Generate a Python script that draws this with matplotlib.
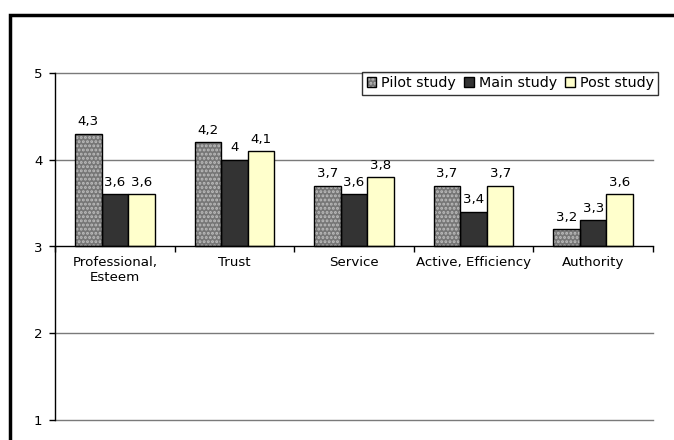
import matplotlib
matplotlib.use("Agg")
import matplotlib.pyplot as plt
from matplotlib.patches import Rectangle
import numpy as np

plt.rcParams['font.family'] = ['DejaVu Sans']
plt.rcParams['hatch.linewidth'] = 1.4

categories = ["Professional,\nEsteem", "Trust", "Service", "Active, Efficiency", "Authority"]
series_names = ["Pilot study", "Main study", "Post study"]
pilot = [4.3, 4.2, 3.7, 3.7, 3.2]
main = [3.6, 4.0, 3.6, 3.4, 3.3]
post = [3.6, 4.1, 3.8, 3.7, 3.6]
y_ticks = [1, 2, 3, 4, 5]
baseline = 3

W, H = 674, 440
fig = plt.figure(figsize=(W / 100, H / 100), dpi=100)
fig.patch.set_facecolor("white")
ax = fig.add_axes([55 / W, 20 / H, 598 / W, 347 / H])

x = np.arange(len(categories))
w = 1 / 4.5
fs = 9.6

def fmt(v):
    return f"{v:g}".replace(".", ",")

# Pilot study: dotted grey texture, then a black outline on top
p_fill = ax.bar(x - w, np.array(pilot) - baseline, w, bottom=baseline,
                facecolor="#767676", edgecolor="#bdbdbd", hatch="....",
                linewidth=0, zorder=3)
p_edge = ax.bar(x - w, np.array(pilot) - baseline, w, bottom=baseline,
                fill=False, edgecolor="black", linewidth=1, zorder=4)
m_bars = ax.bar(x, np.array(main) - baseline, w, bottom=baseline,
                facecolor="#333333", edgecolor="black", linewidth=1, zorder=3)
q_bars = ax.bar(x + w, np.array(post) - baseline, w, bottom=baseline,
                facecolor="#ffffcc", edgecolor="black", linewidth=1, zorder=3)

for xs, vals in ((x - w, pilot), (x, main), (x + w, post)):
    for xi, v in zip(xs, vals):
        ax.annotate(fmt(v), (xi, v), xytext=(0, 4), textcoords="offset points",
                    ha="center", va="bottom", fontsize=fs, color="black")

ax.set_xlim(-0.5, len(categories) - 0.5)
ax.set_ylim(1, 5)
ax.set_yticks(y_ticks)
ax.set_yticklabels([str(t) for t in y_ticks], fontsize=fs)
ax.tick_params(axis="y", direction="out", length=4, width=1, pad=5, color="black")

# category axis crosses the value axis at the baseline
ax.spines["bottom"].set_position(("data", baseline))
ax.spines["bottom"].set_linewidth(1)
ax.spines["bottom"].set_zorder(5)
for s in ("top", "right"):
    ax.spines[s].set_visible(False)
ax.spines["left"].set_linewidth(1)
ax.set_xticks(np.arange(len(categories) + 1) - 0.5)
ax.set_xticklabels([])
ax.set_xticks(x, minor=True)
ax.set_xticklabels(categories, minor=True, fontsize=fs, linespacing=1.15)
ax.tick_params(axis="x", which="major", direction="out", length=4, width=1)
ax.tick_params(axis="x", which="minor", length=0, pad=7)

for t in y_ticks:
    if t != baseline:
        ax.axhline(t, color="#7a7a7a", linewidth=1, zorder=1, clip_on=False)

handles = [(p_fill.patches[0], p_edge.patches[0]), m_bars.patches[0], q_bars.patches[0]]
leg = fig.legend(handles, series_names, loc="upper right",
                 bbox_to_anchor=(658 / W, 1 - 72 / H), ncol=3, fontsize=10.3,
                 frameon=True, fancybox=False, edgecolor="black",
                 handlelength=0.65, handleheight=0.65, handletextpad=0.35,
                 columnspacing=0.6, borderpad=0.3, borderaxespad=0)
leg.get_frame().set_linewidth(1)
leg.set_zorder(10)

# outer frame around the chart area
fig.add_artist(Rectangle((10 / W, -0.2), 1.2, 1.2 - 15 / H, transform=fig.transFigure,
                         fill=False, edgecolor="black", linewidth=2.5))

fig.savefig("out.png", dpi=100, facecolor="white")
